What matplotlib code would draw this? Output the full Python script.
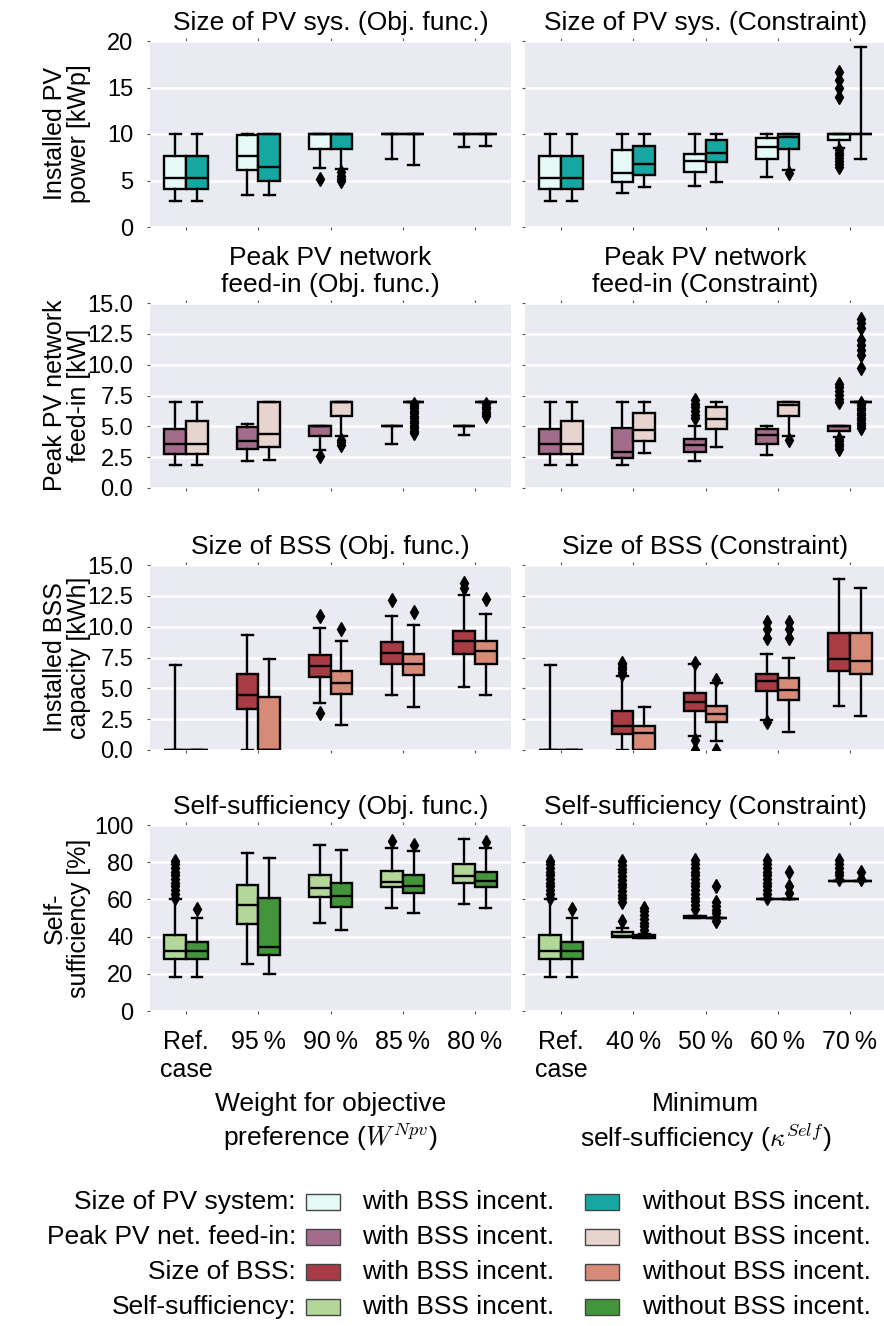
import matplotlib
matplotlib.use('Agg')
import matplotlib.pyplot as plt
from matplotlib.patches import Rectangle

plt.rcParams['font.family'] = ['Liberation Sans', 'DejaVu Sans']
plt.rcParams['mathtext.fontset'] = 'cm'
plt.rcParams['font.size'] = 18

# box statistics per category: (whisker low, q1, median, q3, whisker high)
obj_labels = ['Ref.\ncase', '95\u2009%', '90\u2009%', '85\u2009%', '80\u2009%']
con_labels = ['Ref.\ncase', '40\u2009%', '50\u2009%', '60\u2009%', '70\u2009%']

# installed PV power [kWp]
pv_obj_with = [(2.8, 4.1, 5.3, 7.6, 10.0), (3.4, 6.1, 7.6, 9.9, 10.0), (6.35, 8.4, 10.0, 10.0, 10.0),
               (7.3, 10.0, 10.0, 10.0, 10.0), (8.6, 10.0, 10.0, 10.0, 10.0)]
pv_obj_with_fl = [[], [], [5.2], [], []]
pv_obj_without = [(2.8, 4.1, 5.3, 7.6, 10.0), (3.4, 4.9, 6.4, 10.0, 10.0), (6.2, 8.4, 10.0, 10.0, 10.0),
                  (6.7, 10.0, 10.0, 10.0, 10.0), (8.75, 10.0, 10.0, 10.0, 10.0)]
pv_obj_without_fl = [[], [], [4.9, 5.2, 5.5, 5.9], [], []]
pv_con_with = [(2.8, 4.1, 5.3, 7.6, 10.0), (3.7, 4.85, 5.8, 8.3, 10.0), (4.4, 5.95, 7.1, 7.9, 10.0),
               (5.4, 7.35, 8.65, 9.6, 10.0), (8.5, 9.35, 10.0, 10.0, 10.0)]
pv_con_with_fl = [[], [], [], [], [6.5, 6.8, 7.1, 7.4, 7.7, 8.0, 8.3, 14.0, 14.9, 15.8, 16.7]]
pv_con_without = [(2.8, 4.1, 5.3, 7.6, 10.0), (4.25, 5.55, 6.75, 8.75, 10.0), (4.85, 6.95, 8.0, 9.4, 10.0),
                  (6.15, 8.4, 9.65, 10.0, 10.0), (7.3, 10.0, 10.0, 10.0, 19.4)]
pv_con_without_fl = [[], [], [], [5.8], []]

# peak PV network feed-in [kW]
fi_obj_with = [(1.9, 2.75, 3.55, 4.75, 7.0), (2.15, 3.15, 3.85, 4.95, 5.2), (3.1, 4.2, 5.0, 5.0, 5.0),
               (3.6, 5.0, 5.0, 5.0, 5.0), (4.3, 5.0, 5.0, 5.0, 5.0)]
fi_obj_with_fl = [[], [], [2.6], [], []]
fi_obj_without = [(1.9, 2.75, 3.6, 5.4, 7.0), (2.3, 3.35, 4.4, 7.0, 7.0), (4.2, 5.85, 7.0, 7.0, 7.0),
                  (7.0, 7.0, 7.0, 7.0, 7.0), (7.0, 7.0, 7.0, 7.0, 7.0)]
fi_obj_without_fl = [[], [], [3.5, 3.7, 3.9],
                     [4.45, 4.65, 4.85, 5.05, 5.25, 5.45, 5.65, 5.85, 6.05, 6.25, 6.45, 6.65, 6.85],
                     [5.8, 6.0, 6.2, 6.4, 6.6, 6.8]]
fi_con_with = [(1.9, 2.75, 3.55, 4.75, 7.0), (1.85, 2.4, 2.9, 4.85, 7.0), (2.15, 2.9, 3.5, 3.95, 5.0),
               (2.7, 3.6, 4.3, 4.75, 5.0), (4.15, 4.65, 5.0, 5.0, 5.0)]
fi_con_with_fl = [[], [], [5.65, 5.95, 6.25, 6.55, 6.85, 7.15], [],
                  [3.2, 3.4, 3.6, 3.8, 4.0, 6.95, 7.25, 7.55, 7.85, 8.15, 8.4]]
fi_con_without = [(1.9, 2.75, 3.6, 5.4, 7.0), (2.85, 3.85, 4.7, 6.1, 7.0), (3.35, 4.75, 5.6, 6.55, 7.0),
                  (4.2, 5.85, 6.7, 7.0, 7.0), (7.0, 7.0, 7.0, 7.0, 7.0)]
fi_con_without_fl = [[], [], [], [3.9],
                     [4.9, 5.1, 5.3, 5.5, 5.7, 5.9, 6.1, 6.3, 6.5, 6.7, 6.9,
                      9.7, 10.8, 11.2, 11.6, 12.0, 12.95, 13.4, 13.7]]

# installed BSS capacity [kWh]
bss_obj_with = [(0.0, 0.0, 0.0, 0.0, 6.9), (0.0, 3.3, 4.5, 6.2, 9.3), (3.8, 5.9, 6.8, 7.7, 9.9),
                (4.5, 7.0, 7.9, 8.75, 10.9), (5.1, 7.75, 8.85, 9.65, 12.55)]
bss_obj_with_fl = [[], [], [3.0, 10.9], [12.2], [13.1, 13.55]]
bss_obj_without = [(0.0, 0.0, 0.0, 0.0, 0.0), (0.0, 0.0, 0.0, 4.3, 7.4), (2.0, 4.55, 5.45, 6.4, 8.85),
                   (3.5, 6.05, 7.0, 7.8, 10.1), (4.45, 7.0, 8.0, 8.85, 11.05)]
bss_obj_without_fl = [[], [], [9.8], [11.2], [12.25]]
bss_con_with = [(0.0, 0.0, 0.0, 0.0, 6.9), (0.0, 1.3, 1.95, 3.2, 6.0), (1.15, 3.2, 3.9, 4.65, 7.0),
                (2.45, 4.8, 5.6, 6.2, 7.8), (3.55, 6.4, 7.35, 9.5, 13.85)]
bss_con_with_fl = [[], [6.15, 6.35, 6.55, 6.75, 6.95, 7.05], [0.0, 0.8, 7.05], [2.25, 9.1, 9.8, 10.4], []]
bss_con_without = [(0.0, 0.0, 0.0, 0.0, 0.0), (0.0, 0.0, 1.35, 1.95, 3.5), (0.75, 2.25, 2.9, 3.55, 5.4),
                   (1.5, 4.05, 4.85, 5.8, 7.5), (2.75, 6.15, 7.25, 9.5, 13.1)]
bss_con_without_fl = [[], [], [0.0, 5.65], [9.1, 9.8, 10.4], []]

# self-sufficiency [%]
ss_obj_with = [(18.5, 28, 32.5, 41, 60), (25.5, 47, 57, 68, 85), (47.5, 61.5, 66, 73, 89.5),
               (55.5, 66.5, 69.5, 75.5, 87.5), (57.5, 69, 72.5, 79, 92.5)]
ss_obj_with_fl = [[61, 63, 65, 67, 69, 71, 73, 75, 77, 79, 80.5], [], [], [91.5], []]
ss_obj_without = [(18.5, 28, 32.5, 37, 50), (20, 30, 34.5, 61, 82), (43.5, 56, 62, 69, 86.5),
                  (52.5, 63.5, 67, 73, 86), (55.5, 66.5, 70, 75, 87.5)]
ss_obj_without_fl = [[55], [], [], [89.5], [91]]
ss_con_with = [(18.5, 28, 32.5, 41, 60), (39.6, 39.6, 40.5, 42.3, 44.5), (50.0, 50.0, 50.5, 51.2, 51.2),
               (60, 60, 60, 60, 60), (70, 70, 70, 70, 70)]
ss_con_with_fl = [[61, 63, 65, 67, 69, 71, 73, 75, 77, 79, 80.5],
                  [48.6, 58.5, 60.5, 62.5, 64.5, 66.5, 68.5, 70.5, 72.5, 74.5, 76.5, 78.5, 80.5],
                  [55, 57, 59, 61, 63, 65, 67, 69, 71, 73, 75, 77, 79, 81],
                  [61, 63, 65, 67, 69, 71, 73, 75, 77, 79, 81],
                  [71, 73, 75, 77, 79, 81]]
ss_con_without = [(18.5, 28, 32.5, 37, 50), (39.1, 39.1, 40, 41.1, 41.6), (50, 50, 50, 50, 50),
                  (60, 60, 60, 60, 60), (70, 70, 70, 70, 70)]
ss_con_without_fl = [[55], [43.5, 45.5, 47.5, 49.5, 51.5, 53.5, 55.5],
                     [48.5, 50.5, 52.5, 54.5, 56.5, 58.5, 67], [63.5, 67, 75], [71, 75]]

pv_colors = ('#e5f9f7', '#17a7a3')
fi_colors = ('#a46c8c', '#e8d4cf')
bss_colors = ('#a83b44', '#d88a78')
ss_colors = ('#b3d699', '#42953b')

W, H = 884, 1326
fig = plt.figure(figsize=(W / 100, H / 100), dpi=100)


def px_axes(x0, y0, x1, y1):
    return fig.add_axes([x0 / W, 1 - y1 / H, (x1 - x0) / W, (y1 - y0) / H])


def draw_boxes(ax, stats, fliers, offset, color):
    data = [dict(whislo=lo, q1=q1, med=med, q3=q3, whishi=hi, fliers=fl)
            for (lo, q1, med, q3, hi), fl in zip(stats, fliers)]
    lw = 1.7
    ax.bxp(data, positions=[i + offset for i in range(len(data))], widths=0.3,
           capwidths=0.15, patch_artist=True, manage_ticks=False,
           boxprops=dict(facecolor=color, edgecolor='k', linewidth=lw),
           medianprops=dict(color='k', linewidth=lw),
           whiskerprops=dict(color='k', linewidth=lw),
           capprops=dict(color='k', linewidth=lw),
           flierprops=dict(marker='d', markerfacecolor='k', markeredgecolor='k', markersize=7.5))


panels = [
    [('Size of PV sys. (Obj. func.)', pv_obj_with, pv_obj_with_fl, pv_obj_without, pv_obj_without_fl),
     ('Size of PV sys. (Constraint)', pv_con_with, pv_con_with_fl, pv_con_without, pv_con_without_fl)],
    [('Peak PV network\nfeed-in (Obj. func.)', fi_obj_with, fi_obj_with_fl, fi_obj_without, fi_obj_without_fl),
     ('Peak PV network\nfeed-in (Constraint)', fi_con_with, fi_con_with_fl, fi_con_without, fi_con_without_fl)],
    [('Size of BSS (Obj. func.)', bss_obj_with, bss_obj_with_fl, bss_obj_without, bss_obj_without_fl),
     ('Size of BSS (Constraint)', bss_con_with, bss_con_with_fl, bss_con_without, bss_con_without_fl)],
    [('Self-sufficiency (Obj. func.)', ss_obj_with, ss_obj_with_fl, ss_obj_without, ss_obj_without_fl),
     ('Self-sufficiency (Constraint)', ss_con_with, ss_con_with_fl, ss_con_without, ss_con_without_fl)],
]
row_colors = [pv_colors, fi_colors, bss_colors, ss_colors]
ylabels = ['Installed PV\npower [kWp]', 'Peak PV network\nfeed-in [kW]',
           'Installed BSS\ncapacity [kWh]', 'Self-\nsufficiency [%]']
ylims = [20, 15, 15, 100]
yticks = [[0, 5, 10, 15, 20], [0, 2.5, 5, 7.5, 10, 12.5, 15], [0, 2.5, 5, 7.5, 10, 12.5, 15],
          [0, 20, 40, 60, 80, 100]]
yfmt = ['{:.0f}', '{:.1f}', '{:.1f}', '{:.0f}']

cols = [(150, 511), (525, 886)]
rows = [(41, 227), (303, 488), (565, 750), (825, 1011)]

for r, (y0, y1) in enumerate(rows):
    for c, (x0, x1) in enumerate(cols):
        ax = px_axes(x0, y0, x1, y1)
        title, st_w, fl_w, st_wo, fl_wo = panels[r][c]
        draw_boxes(ax, st_w, fl_w, -0.15, row_colors[r][0])
        draw_boxes(ax, st_wo, fl_wo, 0.15, row_colors[r][1])
        ax.set_facecolor('#eaeaf2')
        for s in ax.spines.values():
            s.set_visible(False)
        ax.set_axisbelow(True)
        ax.yaxis.grid(True, color='white', linewidth=1.8)
        ax.set_xlim(-0.5, 4.5)
        ax.set_ylim(0, ylims[r])
        ax.set_yticks(yticks[r])
        ax.set_xticks(range(5))
        ax.tick_params(axis='x', top=True, bottom=True, length=2, width=0.8,
                       color='#555555', pad=12)
        ax.tick_params(axis='y', left=True, length=2, width=0.8, color='#555555', pad=10,
                       labelsize=17)
        if c == 0:
            ax.set_yticklabels([yfmt[r].format(v) for v in yticks[r]])
            ax.set_ylabel(ylabels[r], linespacing=1.0)
            ax.yaxis.set_label_coords(-0.163, 0.5)
        else:
            ax.set_yticklabels([])
        if r == 3:
            ax.set_xticklabels(obj_labels if c == 0 else con_labels, linespacing=1.2)
        else:
            ax.set_xticklabels([])
        ax.set_title(title, pad=8, linespacing=1.17, fontsize=19)
        if r == 3:
            if c == 0:
                ax.set_xlabel('Weight for objective\npreference ($W^{Npv}$)', labelpad=7, fontsize=19)
            else:
                ax.set_xlabel('Minimum\nself-sufficiency ($\\kappa^{Self}$)', labelpad=7, fontsize=19)

# legend rows: category label, then a swatch for each incentive case
legend_rows = ['Size of PV system:', 'Peak PV net. feed-in:', 'Size of BSS:', 'Self-sufficiency:']
legend_y = [1202, 1237, 1272, 1307]
for label, yc, colors in zip(legend_rows, legend_y, row_colors):
    fig.text(296 / W, 1 - yc / H, label, ha='right', va='center', fontsize=19)
    for xs, xt, txt, col in [(306, 362, 'with BSS incent.', colors[0]),
                             (585, 642, 'without BSS incent.', colors[1])]:
        fig.add_artist(Rectangle((xs / W, 1 - (yc + 8) / H), 34 / W, 16 / H,
                                 transform=fig.transFigure, facecolor=col,
                                 edgecolor='#444444', linewidth=1))
        fig.text(xt / W, 1 - yc / H, txt, ha='left', va='center', fontsize=19)

fig.savefig('out.png', dpi=100)
